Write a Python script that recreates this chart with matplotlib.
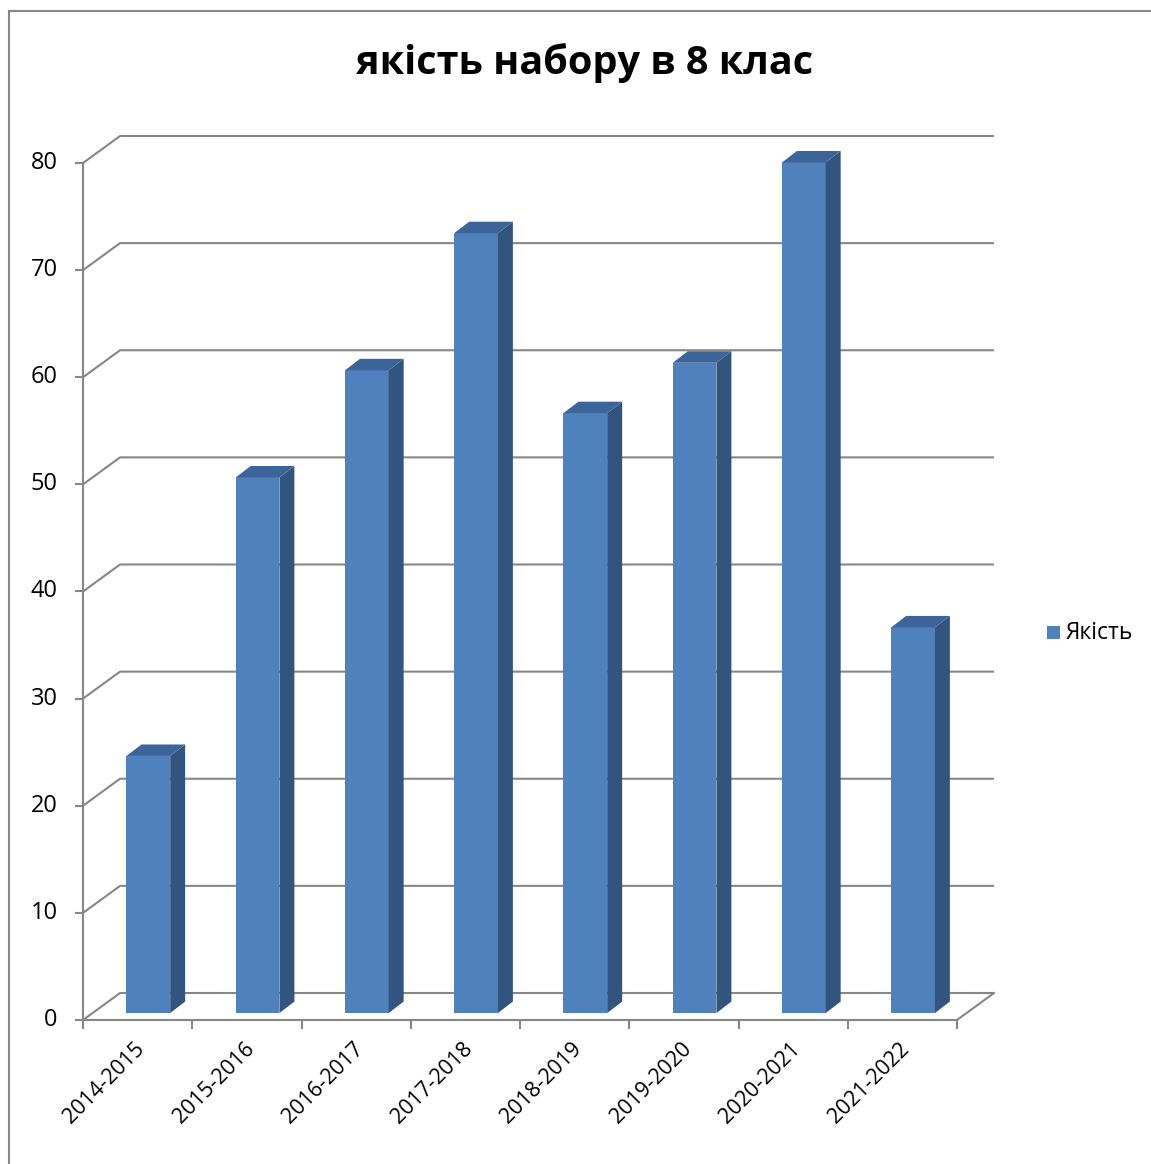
import numpy as np
import matplotlib.pyplot as plt
from matplotlib.patches import Polygon, Rectangle

# --- Data
categories = ["2014-2015", "2015-2016", "2016-2017", "2017-2018",
              "2018-2019", "2019-2020", "2020-2021", "2021-2022"]
values = [24, 50, 60, 72.8, 56, 60.7, 79.4, 36]
yticks = [0, 10, 20, 30, 40, 50, 60, 70, 80]
title = "якість набору в 8 клас"
series_name = "Якість"

# --- Style
FRONT = "#4f81bd"
SIDE = "#32557f"
TOP = "#3c6499"
GRID = "#878787"
FONT = ["Open Sans", "DejaVu Sans"]

# oblique depth of the back wall (category units, value units)
DX, DY = 0.339, 2.52
# bar: front face offset, width, depth
BOFF_X, BOFF_Y = 0.088, 0.65
BAR_LEFT, BAR_W = 0.31, 0.40
BD_X, BD_Y = 0.137, 1.07

W, H = 1151, 1164
fig = plt.figure(figsize=(W / 100, H / 100), dpi=100)
fig.patch.set_facecolor("white")

# axes spans the front plane: x=0..8 -> px 83..957, y=0..80 -> px 1020..163
x0, x1, y0, y1 = 83, 957, 1020, 163
ax = fig.add_axes([x0 / W, 1 - y0 / H, (x1 - x0) / W, (y0 - y1) / H])
ax.set_xlim(0, len(categories))
ax.set_ylim(0, 80)
ax.axis("off")

n = len(categories)
lw = 1.5

# --- Back wall gridlines with diagonal to front axis
for v in yticks:
    ax.plot([0, DX, n + DX], [v, v + DY, v + DY], color=GRID, lw=lw,
            clip_on=False, zorder=1, solid_capstyle="butt")
    ax.plot([-0.065, 0], [v, v], color=GRID, lw=lw, clip_on=False, zorder=1)
    ax.text(-0.23, v, str(v), ha="right", va="center", fontsize=17,
            family=FONT, color="black")

# floor front edge and right edge
ax.plot([0, n, n + DX], [0, 0, DY], color=GRID, lw=lw, clip_on=False, zorder=1)
# front vertical axis
ax.plot([0, 0], [0, 80], color=GRID, lw=lw, clip_on=False, zorder=1)
# category ticks
for i in range(n + 1):
    ax.plot([i, i], [0, -0.75], color=GRID, lw=lw, clip_on=False, zorder=1)

# --- 3D-looking bars
for i, v in enumerate(values):
    xl = i + BAR_LEFT + BOFF_X
    xr = xl + BAR_W
    yb = BOFF_Y
    yt = BOFF_Y + v
    ax.add_patch(Rectangle((xl, yb), BAR_W, v, facecolor=FRONT,
                           edgecolor="none", zorder=3, clip_on=False))
    ax.add_patch(Polygon([(xr, yb), (xr + BD_X, yb + BD_Y),
                          (xr + BD_X, yt + BD_Y), (xr, yt)],
                         facecolor=SIDE, edgecolor="none", zorder=3, clip_on=False))
    ax.add_patch(Polygon([(xl, yt), (xr, yt), (xr + BD_X, yt + BD_Y),
                          (xl + BD_X, yt + BD_Y)],
                         facecolor=TOP, edgecolor="none", zorder=3, clip_on=False))
    ax.text(i + 0.47, -1.7, categories[i], rotation=45, ha="right", va="top",
            rotation_mode="anchor", fontsize=15.5, family=FONT, color="black")

# --- Title
fig.text(585 / W, 1 - 63 / H, title, ha="center", va="center",
         fontsize=28.5, fontweight="bold", family=FONT)

# --- Legend
fig.patches.append(Rectangle((1047 / W, 1 - 639 / H), 13 / W, 13 / H,
                             transform=fig.transFigure, facecolor=FRONT,
                             edgecolor="none"))
fig.text(1066 / W, 1 - 633 / H, series_name, ha="left", va="center",
         fontsize=16.5, family=FONT)

# --- Chart border (top and left visible)
fig.add_artist(plt.Line2D([9 / W, 9 / W], [0, 1 - 11 / H], color="#888888",
                          lw=1.5, transform=fig.transFigure))
fig.add_artist(plt.Line2D([9 / W, 1], [1 - 11 / H, 1 - 11 / H], color="#888888",
                          lw=1.5, transform=fig.transFigure))

fig.savefig("out.png", dpi=100)
